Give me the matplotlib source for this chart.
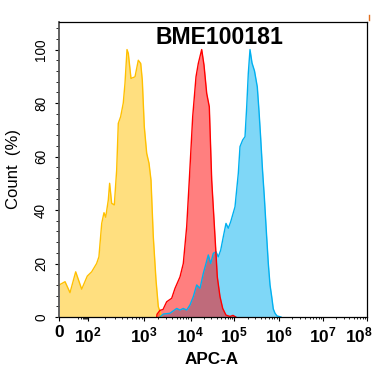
import numpy as np
import matplotlib
matplotlib.use("Agg")
import matplotlib.pyplot as plt
from matplotlib.lines import Line2D
from matplotlib.transforms import ScaledTranslation

plt.rcParams['font.family'] = ['Liberation Sans', 'DejaVu Sans']
plt.rcParams['mathtext.fontset'] = 'custom'
plt.rcParams['mathtext.rm'] = 'Liberation Sans'
plt.rcParams['mathtext.bf'] = 'Liberation Sans:bold'
plt.rcParams['mathtext.it'] = 'Liberation Sans:italic'

# ---------------- data (APC-A intensity, % of max count) ----------------
title = "BME100181"
x_label = "APC-A"
y_label = "Count  (%)"

yellow_x = [0, 1.5, 4.5, 12.6, 34.3, 85, 115, 141, 155, 174, 191, 205, 228, 241, 262,
            292, 322, 344, 379, 422, 453, 492, 519, 579, 683, 782, 863, 921, 1000,
            1127, 1264, 1396, 1566, 1792, 2009, 2380]
yellow_y = [12, 13.2, 9.1, 16.9, 10.4, 15.3, 16.9, 20, 22.5, 35, 39, 37.3, 43.7, 50, 42.5,
            41.9, 55, 72.4, 74.9, 80, 87.4, 100, 98.6, 89.2, 89.8, 96, 94.8, 88.6, 71.1,
            61.2, 57.5, 51.2, 30, 13.8, 3.9, 0]

red_x = [1855, 1883, 2186, 2540, 3052, 3918, 4618, 5924, 6985, 8276, 9419, 11225, 13355,
         15072, 18020, 20334, 23442, 26870, 30479, 36266, 40920, 47164, 54355, 64640,
         79776, 93390, 108100]
red_y = [0, 1, 2.5, 2.8, 5.7, 7, 10.7, 15, 20, 33.8, 51.2, 74.9, 89.8,
         94.8, 100, 94.2, 83.6, 78.6, 51.2, 30, 15, 7.6, 3.2, 0.7,
         0.2, 0.6, 0]

blue_x = [2186, 2578, 3600, 5026, 5924, 6985, 8276, 9755, 11585, 13853, 16481, 19601,
          22589, 25497, 28920, 33160, 38210, 43120, 48930, 56090, 64640, 72950, 82760,
          103700, 123100, 134400, 154600, 174200, 190300, 206700, 225700, 250400,
          285100, 329600, 360000, 389200, 431700, 474000, 531200, 583200, 637100,
          695600, 755600, 825600, 915600, 1127000]
blue_y = [0, 1.1, 1.4, 3.2, 2.6, 3.2, 2.6, 4.5, 7.6, 12, 10.7, 16.3,
          20, 23.2, 20, 23.8, 24.4, 22.5, 25, 30, 35, 33.2, 35.6,
          41.2, 53.7, 63.7, 66.2, 67.4, 78.6, 91.1, 100, 95,
          92, 86, 77, 68, 55, 45, 31, 20, 12,
          7.6, 3, 1.4, 0.4, 0]

x_ticks = [0, 1e2, 1e3, 1e4, 1e5, 1e6, 1e7, 1e8]
x_tick_labels = ['0', r'$\mathbf{10^2}$', r'$\mathbf{10^3}$', r'$\mathbf{10^4}$',
                 r'$\mathbf{10^5}$', r'$\mathbf{10^6}$', r'$\mathbf{10^7}$', r'$\mathbf{10^8}$']
y_ticks = [0, 20, 40, 60, 80, 100]

# ---------------- display scale (biexponential-like) ----------------
U_ANCH = np.log10(1 + np.array(x_ticks))
P_ANCH = np.array([0, 29, 85, 131.2, 175, 219.4, 263.5, 307.7])


def fwd(x):
    x = np.asarray(x, dtype=float)
    u = np.log10(1 + np.clip(x, 0, None))
    return np.interp(u, U_ANCH, P_ANCH)


def inv(p):
    p = np.asarray(p, dtype=float)
    u = np.interp(p, P_ANCH, U_ANCH)
    return 10 ** u - 1


fig = plt.figure(figsize=(3.77, 3.78), dpi=100)
ax = fig.add_axes([59.3 / 377, 1 - 317 / 378, (367 - 59.3) / 377, (317 - 22) / 378])
ax.set_xscale('function', functions=(fwd, inv))

series = [
    (yellow_x, yellow_y, '#FFC000'),
    (blue_x, blue_y, '#00B0F0'),
    (red_x, red_y, '#FF0000'),
]
for xs, ys, c in series:
    ax.fill_between(xs, ys, 0, color=c, alpha=0.5, lw=0)
    ax.plot(xs, ys, color=c, lw=1)

ax.set_xlim(0, 1e8)
ax.set_ylim(0, 110.3)

ax.set_xticks(x_ticks)
ax.set_xticklabels(x_tick_labels, fontsize=12.5, fontweight='bold')
minor = []
for k in range(1, 8):
    for m in range(2, 10):
        minor.append(m * 10 ** k)
ax.set_xticks(minor, minor=True)
ax.tick_params(axis='x', which='major', length=3, width=0.8, pad=3)
ax.tick_params(axis='x', which='minor', length=1.5, width=0.6)
# keep the last label inside the figure, as in the reference
last = ax.get_xticklabels()[-1]
last.set_transform(last.get_transform() + ScaledTranslation(-8 / 100, 0, fig.dpi_scale_trans))

ax.set_yticks(y_ticks)
ax.set_yticklabels([str(v) for v in y_ticks], fontsize=9.8, rotation=90, va='center')
ax.set_yticks(np.arange(0, 110, 4), minor=True)
ax.tick_params(axis='y', which='major', length=3, width=0.8, pad=5)
ax.tick_params(axis='y', which='minor', length=2, width=0.6)

for s in ax.spines.values():
    s.set_linewidth(0.9)
ax.spines['left'].set_color('#555555')
ax.spines['left'].set_linewidth(1.3)

fig.text(14 / 377, 1 - 169 / 378, y_label, rotation=90, ha='center', va='center', fontsize=12)
fig.text(212 / 377, 1 - 360 / 378, x_label, ha='center', va='center', fontsize=12.3,
         fontweight='bold')
fig.text(219.5 / 377, 1 - 37.5 / 378, title, ha='center', va='center', fontsize=16.6,
         fontweight='bold')

fig.add_artist(Line2D([368.5 / 377, 368.5 / 377], [1 - 15 / 378, 1 - 20 / 378],
                      color='#E07020', lw=1))

fig.savefig('out.png', dpi=100)
